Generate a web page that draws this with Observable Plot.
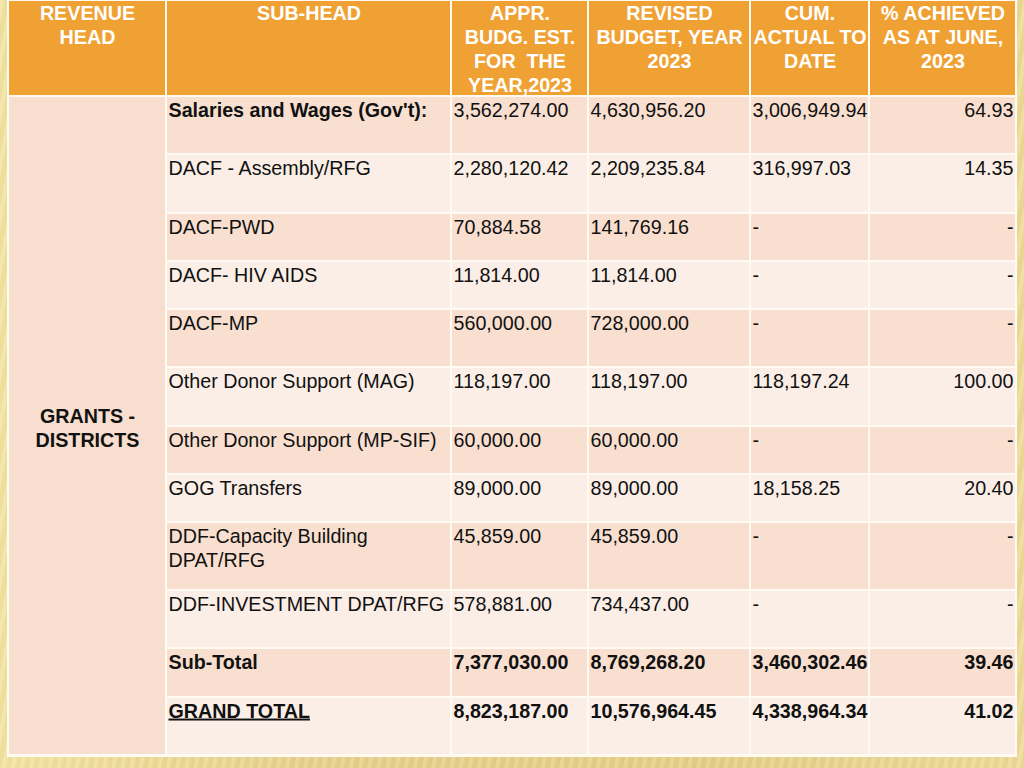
<!DOCTYPE html>
<html>
<head>
<meta charset="utf-8">
<script src="https://cdn.jsdelivr.net/npm/d3@7"></script>
<script src="https://cdn.jsdelivr.net/npm/@observablehq/plot@0.6"></script>
<style>
  html, body { margin: 0; padding: 0; width: 1024px; height: 768px; overflow: hidden; }
  body {
    background:
      repeating-linear-gradient(100deg, rgba(255,250,210,0.18) 0px, rgba(255,250,210,0.18) 3px, rgba(200,170,90,0.08) 5px, rgba(200,170,90,0.08) 9px),
      linear-gradient(90deg, #f2e3a4 0%, #e6cf8c 30%, #e4cd88 70%, #ecd998 100%);
  }
  #chart svg { display: block; background: transparent; }
</style>
</head>
<body>
<div id="chart"></div>
<script>
// ---- data ----
const headers = [
  "REVENUE\nHEAD",
  "SUB-HEAD",
  "APPR.\nBUDG. EST.\nFOR  THE\nYEAR,2023",
  "REVISED\nBUDGET, YEAR\n2023",
  "CUM.\nACTUAL TO\nDATE",
  "% ACHIEVED\nAS AT JUNE,\n2023"
];
const revenueHead = "GRANTS -\nDISTRICTS";
const subHeads = [
  "Salaries and Wages (Gov't):",
  "DACF - Assembly/RFG",
  "DACF-PWD",
  "DACF- HIV AIDS",
  "DACF-MP",
  "Other Donor Support (MAG)",
  "Other Donor Support (MP-SIF)",
  "GOG Transfers",
  "DDF-Capacity Building\nDPAT/RFG",
  "DDF-INVESTMENT DPAT/RFG",
  "Sub-Total",
  "GRAND TOTAL"
];
const approved = [3562274.00, 2280120.42, 70884.58, 11814.00, 560000.00, 118197.00, 60000.00, 89000.00, 45859.00, 578881.00, 7377030.00, 8823187.00];
const revised  = [4630956.20, 2209235.84, 141769.16, 11814.00, 728000.00, 118197.00, 60000.00, 89000.00, 45859.00, 734437.00, 8769268.20, 10576964.45];
const cumActual = [3006949.94, 316997.03, null, null, null, 118197.24, null, 18158.25, null, null, 3460302.46, 4338964.34];
const pctAchieved = [64.93, 14.35, null, null, null, 100.00, null, 20.40, null, null, 39.46, 41.02];
const boldLabelRows = [0, 10, 11];
const boldValueRows = [10, 11];

// ---- layout ----
const colEdges = [8, 166, 451, 588, 750, 869, 1016];
const rowEdges = [96, 154, 213, 261, 309, 367, 426, 474, 522, 590, 648, 697, 755];
const FONT = "Liberation Sans, Arial, Helvetica, sans-serif";
const FS = 19.7;
const LH = 24 / FS;
const ORANGE = "#f0a133";
const DARK = "#f8dfcf";
const LIGHT = "#fbeee6";
const LEFTCOL = "#f8dece";

const fmt = d3.format(",.2f");
const money = v => v == null ? "-" : fmt(v);
const pct = v => v == null ? "-" : d3.format(".2f")(v);

const rows = subHeads.map((s, i) => ({
  i, sub: s, a: money(approved[i]), r: money(revised[i]), c: money(cumActual[i]), p: pct(pctAchieved[i]),
  top: rowEdges[i], bottom: rowEdges[i + 1],
  boldLabel: boldLabelRows.includes(i), boldValue: boldValueRows.includes(i),
  fill: i % 2 === 0 ? DARK : LIGHT
}));

const headCells = headers.map((h, j) => ({label: h, x1: colEdges[j], x2: colEdges[j + 1]}));

const bodyCells = [];
rows.forEach(r => {
  for (let j = 1; j < 6; j++) bodyCells.push({x1: colEdges[j], x2: colEdges[j + 1], y1: r.top, y2: r.bottom, fill: r.fill});
});

const txt = (data, opts) => Plot.text(data, {fontFamily: FONT, fontSize: FS, fill: "#111", lineAnchor: "top", ...opts});

const labelMarks = (data, weight) =>
  txt(data, {x: () => colEdges[1] + 2, y: d => d.top + 3, text: "sub", textAnchor: "start", fontWeight: weight, lineHeight: LH});

const valueMarks = (data, weight) => [
  txt(data, {x: () => colEdges[2] + 2, y: d => d.top + 6, text: "a", textAnchor: "start", fontWeight: weight}),
  txt(data, {x: () => colEdges[3] + 2, y: d => d.top + 6, text: "r", textAnchor: "start", fontWeight: weight}),
  txt(data, {x: () => colEdges[4] + 2, y: d => d.top + 6, text: "c", textAnchor: "start", fontWeight: weight}),
  txt(data, {x: () => colEdges[6] - 3, y: d => d.top + 6, text: "p", textAnchor: "end", fontWeight: weight})
];

const chart = Plot.plot({
  width: 1024,
  height: 768,
  margin: 0,
  x: {domain: [0, 1024], range: [0, 1024], axis: null},
  y: {domain: [0, 768], range: [0, 768], axis: null},
  color: {type: "identity"},
  style: {background: "transparent"},
  marks: [
    Plot.rect([0], {x1: () => colEdges[0] - 1, x2: () => colEdges[6] + 1, y1: () => 0, y2: () => rowEdges[rowEdges.length - 1] + 2, fill: "#fffaf2"}),
    Plot.rect(headCells, {x1: "x1", x2: "x2", y1: () => 0, y2: () => rowEdges[0], fill: ORANGE, inset: 1}),
    Plot.rect([revenueHead], {x1: () => colEdges[0], x2: () => colEdges[1], y1: () => rowEdges[0], y2: () => rowEdges[rowEdges.length - 1], fill: LEFTCOL, inset: 1}),
    Plot.rect(bodyCells, {x1: "x1", x2: "x2", y1: "y1", y2: "y2", fill: "fill", inset: 1}),
    txt(headCells, {x: d => (d.x1 + d.x2) / 2, y: () => 2, text: "label", fill: "white", fontWeight: "bold", textAnchor: "middle", lineHeight: LH}),
    txt([revenueHead], {x: () => (colEdges[0] + colEdges[1]) / 2, y: () => 427, text: d => d, fontWeight: "bold", textAnchor: "middle", lineAnchor: "middle", lineHeight: LH}),
    labelMarks(rows.filter(r => !r.boldLabel), "normal"),
    labelMarks(rows.filter(r => r.boldLabel), "bold"),
    ...valueMarks(rows.filter(r => !r.boldValue), "normal"),
    ...valueMarks(rows.filter(r => r.boldValue), "bold")
  ]
});

d3.select(chart).selectAll("text").filter(function () { return this.textContent === "GRAND TOTAL"; })
  .style("text-decoration", "underline");

document.getElementById("chart").appendChild(chart);
</script>
</body>
</html>
